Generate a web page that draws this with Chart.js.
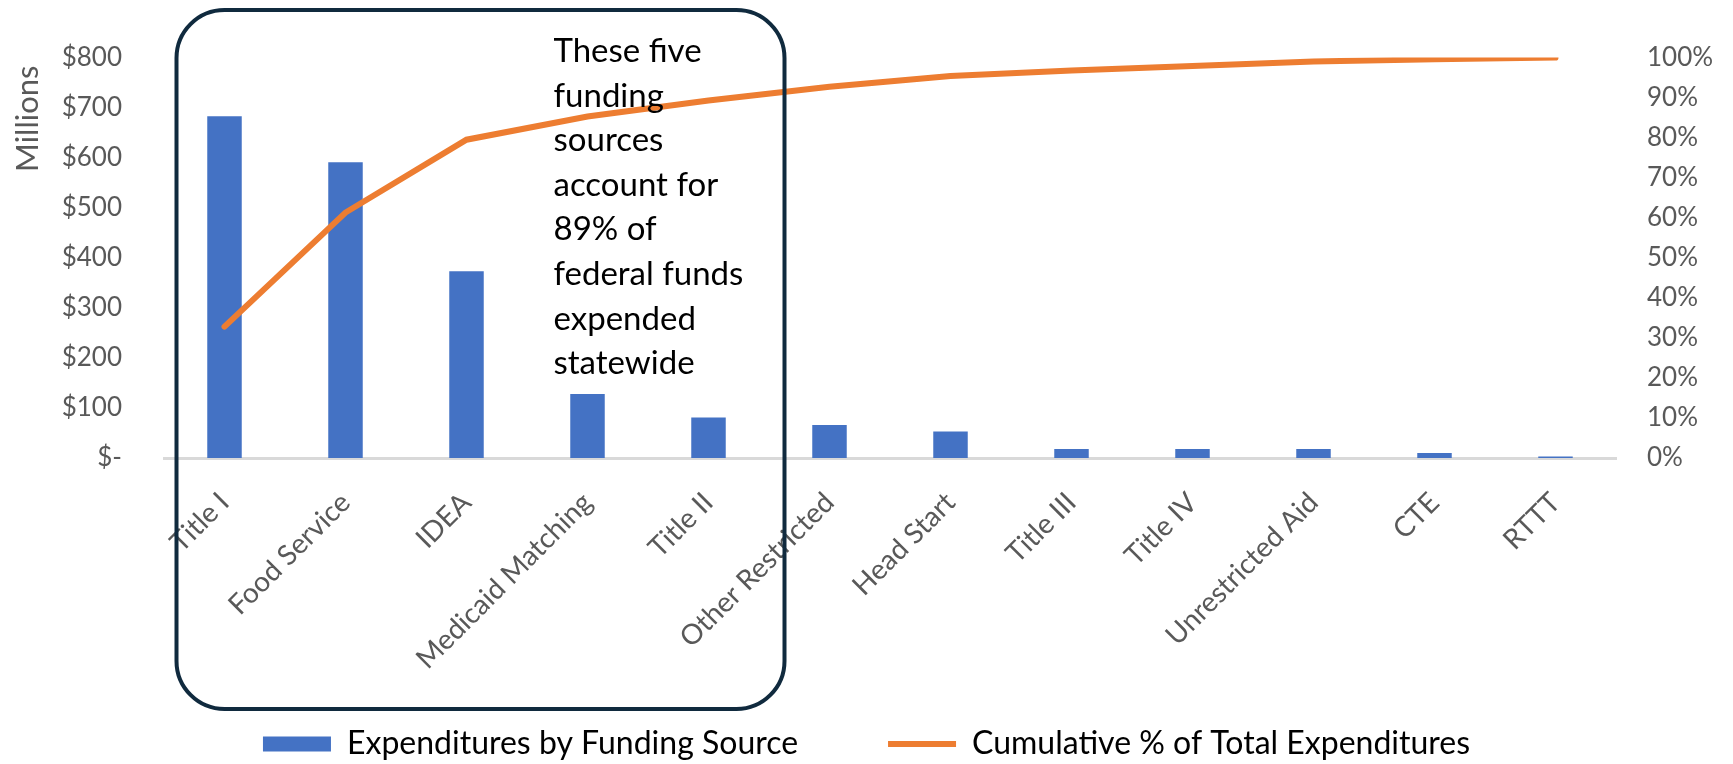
<!DOCTYPE html>
<html>
<head>
<meta charset="utf-8">
<script src="https://cdn.jsdelivr.net/npm/chart.js@4"></script>
<style>
  html, body { margin: 0; padding: 0; background: #ffffff; }
</style>
</head>
<body>
<canvas id="chart" width="1733" height="764"></canvas>
<script>
// funding sources, sorted by spending
var fundingLabels = ['Title I', 'Food Service', 'IDEA', 'Medicaid Matching', 'Title II', 'Other Restricted',
  'Head Start', 'Title III', 'Title IV', 'Unrestricted Aid', 'CTE', 'RTTT'];
// expenditures, $ millions
var expenditures = [683, 591, 373, 128, 81, 66, 53, 18, 18, 18, 10, 3];
// cumulative share of total, %
var cumulativePct = [32.8, 61.3, 79.5, 85.3, 89.3, 92.7, 95.4, 96.8, 97.9, 99.0, 99.6, 100];

var barLegend = 'Expenditures by Funding Source';
var lineLegend = 'Cumulative % of Total Expenditures';
var noteLines = ['These five', 'funding', 'sources', 'account for', '89% of', 'federal funds', 'expended', 'statewide'];

var tickColor = '#595959';
var fontName = 'Lato, "Open Sans", sans-serif';

// rounded box + note text around the first five sources
var notePlugin = {
  id: 'note',
  afterDraw: function (chart) {
    var c = chart.ctx;
    var xs = chart.scales.x;
    var left = xs.getPixelForValue(0) - 48;
    var right = xs.getPixelForValue(4) + 76;
    var top = 10, bottom = 709, r = 48;
    c.save();
    c.strokeStyle = '#102a3e';
    c.lineWidth = 4;
    c.beginPath();
    c.roundRect(left, top, right - left, bottom - top, r);
    c.stroke();

    c.fillStyle = '#000000';
    c.font = '33px ' + fontName;
    c.textAlign = 'left';
    c.textBaseline = 'alphabetic';
    var tx = xs.getPixelForValue(3) - 34;
    noteLines.forEach(function (t, i) {
      c.fillText(t, tx, 62 + i * 44.6);
    });
    c.restore();
  }
};

var ctx = document.getElementById('chart').getContext('2d');

var myChart = new Chart(ctx, {
  data: {
    labels: fundingLabels,
    datasets: [
      {
        type: 'line',
        label: lineLegend,
        data: cumulativePct,
        yAxisID: 'y1',
        borderColor: '#ED7D31',
        backgroundColor: '#ED7D31',
        borderWidth: 6,
        borderCapStyle: 'round',
        pointRadius: 0,
        pointStyle: 'line',
        tension: 0,
        order: 0
      },
      {
        type: 'bar',
        label: barLegend,
        data: expenditures,
        yAxisID: 'y',
        backgroundColor: '#4472C4',
        barPercentage: 0.285,
        categoryPercentage: 1,
        pointStyle: 'rect',
        order: 1
      }
    ]
  },
  options: {
    responsive: false,
    animation: false,
    layout: { padding: { top: 54, left: 0, right: 0, bottom: -6 } },
    plugins: {
      tooltip: { enabled: false },
      legend: {
        position: 'bottom',
        reverse: true,
        labels: {
          usePointStyle: true,
          pointStyleWidth: 68,
          boxHeight: 15,
          padding: 8,
          color: '#000000',
          font: { family: fontName, size: 32 },
          generateLabels: function (chart) {
            var items = Chart.defaults.plugins.legend.labels.generateLabels(chart);
            items.forEach(function (it) {
              if (it.text === barLegend) it.text = barLegend + '          ';
            });
            return items;
          }
        }
      }
    },
    scales: {
      x: {
        grid: { display: false, drawTicks: false },
        border: { color: '#D9D9D9', width: 3 },
        ticks: {
          color: tickColor,
          font: { family: fontName, size: 28 },
          maxRotation: 45,
          minRotation: 45,
          padding: 28
        },
        afterFit: function (s) { s.height = 262; }
      },
      y: {
        position: 'left',
        min: 0,
        max: 800,
        grid: { display: false, drawTicks: false },
        border: { display: false },
        ticks: {
          stepSize: 100,
          color: tickColor,
          padding: 42,
          font: { family: fontName, size: 26 },
          callback: function (v) { return v === 0 ? '$-' : '$' + v; }
        },
        title: {
          display: true,
          text: 'Millions ',
          align: 'end',
          color: tickColor,
          padding: { top: 9, bottom: 0 },
          font: { family: fontName, size: 31 }
        },
        afterFit: function (s) { s.width = 164; }
      },
      y1: {
        position: 'right',
        min: 0,
        max: 100,
        grid: { display: false, drawTicks: false },
        border: { display: false },
        ticks: {
          stepSize: 10,
          color: tickColor,
          padding: 31,
          font: { family: fontName, size: 26 },
          callback: function (v) { return v + '%'; }
        },
        afterFit: function (s) { s.width = 117; }
      }
    }
  },
  plugins: [notePlugin]
});
</script>
</body>
</html>
